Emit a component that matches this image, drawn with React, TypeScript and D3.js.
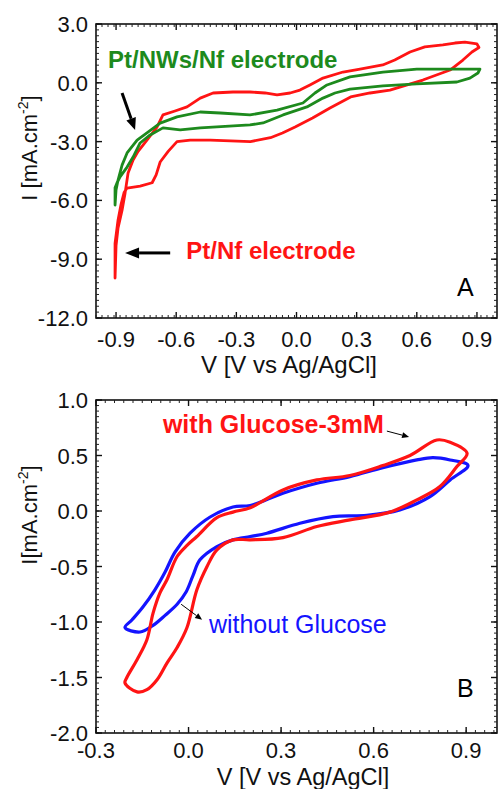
import React from "react";
import * as d3 from "d3";

// ---- Panel A: CV loops of the two electrodes (V vs Ag/AgCl, mA.cm^-2) ----
const ptNfV = [-0.905, -0.905, -0.89, -0.875, -0.86, -0.845, -0.78, -0.72, -0.7, -0.68, -0.64, -0.596, -0.53, -0.43, -0.23, -0.13, -0.07, -0.007, 0.08, 0.167, 0.27, 0.367, 0.466, 0.63, 0.766, 0.83, 0.875, 0.91, 0.9, 0.84, 0.79, 0.73, 0.64, 0.566, 0.49, 0.43, 0.317, 0.232, 0.132, 0.067, 0.017, -0.032, -0.097, -0.157, -0.232, -0.317, -0.416, -0.48, -0.546, -0.606, -0.666, -0.696, -0.746, -0.79, -0.815, -0.84, -0.855, -0.87, -0.89, -0.9];
const ptNfI = [-9.96, -8.2, -7.0, -6.2, -5.6, -5.37, -5.27, -5.1, -4.7, -4.04, -3.5, -3.0, -2.92, -2.92, -3.0, -2.8, -2.56, -2.26, -1.8, -1.29, -0.72, -0.52, -0.37, 0.14, 0.65, 1.16, 1.57, 1.8, 1.98, 2.08, 2.03, 1.93, 1.83, 1.57, 1.16, 0.91, 0.7, 0.55, 0.24, -0.11, -0.37, -0.52, -0.62, -0.52, -0.47, -0.47, -0.52, -0.78, -1.23, -1.44, -1.64, -2.26, -2.92, -3.5, -3.94, -4.6, -5.63, -6.5, -7.4, -8.3];

const ptNwsV = [-0.905, -0.9, -0.89, -0.87, -0.845, -0.795, -0.746, -0.68, -0.596, -0.48, -0.38, -0.232, -0.097, 0.032, 0.092, 0.152, 0.267, 0.431, 0.6, 0.766, 0.915, 0.905, 0.865, 0.8, 0.6, 0.431, 0.267, 0.192, 0.132, 0.052, -0.067, -0.167, -0.232, -0.48, -0.58, -0.666, -0.73, -0.78, -0.815, -0.845, -0.88, -0.895, -0.905];
const ptNwsI = [-6.24, -5.47, -4.96, -4.2, -3.58, -2.92, -2.56, -2.06, -1.74, -1.49, -1.54, -1.64, -1.39, -1.03, -0.52, -0.11, 0.3, 0.55, 0.7, 0.7, 0.7, 0.5, 0.24, 0.04, -0.06, -0.16, -0.32, -0.52, -0.78, -1.23, -1.64, -2.05, -2.15, -2.3, -2.4, -2.3, -2.66, -3.07, -3.79, -4.3, -4.8, -5.1, -5.35];

// ---- Panel B: CV loops with and without glucose ----
const glucoseV = [-0.206, -0.2, -0.167, -0.135, -0.115, -0.093, -0.07, -0.037, -0.005, 0.027, 0.092, 0.144, 0.2, 0.306, 0.416, 0.523, 0.63, 0.718, 0.805, 0.848, 0.903, 0.87, 0.815, 0.74, 0.653, 0.523, 0.416, 0.306, 0.2, 0.144, 0.092, 0.06, 0.027, -0.005, -0.037, -0.07, -0.102, -0.135, -0.167];
const glucoseI = [-1.55, -1.5, -1.34, -1.16, -0.92, -0.74, -0.62, -0.41, -0.31, -0.23, -0.06, -0.01, 0.03, 0.19, 0.28, 0.32, 0.41, 0.5, 0.64, 0.62, 0.52, 0.4, 0.22, 0.1, -0.01, -0.08, -0.14, -0.24, -0.26, -0.26, -0.35, -0.5, -0.71, -1.05, -1.23, -1.37, -1.52, -1.61, -1.63];

const blankV = [-0.206, -0.183, -0.148, -0.109, -0.076, -0.044, 0.005, 0.07, 0.144, 0.2, 0.306, 0.416, 0.523, 0.63, 0.74, 0.792, 0.848, 0.906, 0.848, 0.783, 0.685, 0.578, 0.468, 0.361, 0.254, 0.2, 0.144, 0.092, 0.037, 0.014, -0.008, -0.037, -0.076, -0.115, -0.157];
const blankI = [-1.05, -0.98, -0.865, -0.71, -0.55, -0.37, -0.2, -0.054, 0.036, 0.05, 0.16, 0.25, 0.31, 0.39, 0.46, 0.48, 0.46, 0.41, 0.28, 0.13, 0.01, -0.04, -0.05, -0.11, -0.2, -0.23, -0.26, -0.32, -0.44, -0.585, -0.73, -0.84, -0.94, -1.03, -1.09];

// ---- Axis ticks ----
const topXTicks = [-0.9, -0.6, -0.3, 0.0, 0.3, 0.6, 0.9];
const topYTicks = [3, 0, -3, -6, -9, -12];
const botXTicks = [-0.3, 0.0, 0.3, 0.6, 0.9];
const botYTicks = [1, 0.5, 0, -0.5, -1, -1.5, -2];

const RED = "#ff1414";
const GREEN = "#1d8a1d";
const BLUE = "#1414ff";
const FONT = "'Liberation Sans', Arial, sans-serif";

type Pt = [number, number];
const zip = (xs: number[], ys: number[]): Pt[] => xs.map((x, i) => [x, ys[i]]);

type FrameProps = {
  x: d3.ScaleLinear<number, number>;
  y: d3.ScaleLinear<number, number>;
  xMajor: number[];
  yMajor: number[];
  xMinor: number[];
  yMinor: number[];
  labelGap: number;
};

function Frame({ x, y, xMajor, yMajor, xMinor, yMinor, labelGap }: FrameProps) {
  const [x0, x1] = x.range();
  const [y1, y0] = y.range();
  const maj = 6;
  const min = 3;
  const fmt = (v: number) => v.toFixed(1);
  return (
    <g>
      <rect x={x0} y={y0} width={x1 - x0} height={y1 - y0} fill="none" stroke="#111" strokeWidth={1.6} />
      {xMinor.map((v, i) => (
        <g key={"xm" + i} stroke="#222" strokeWidth={1}>
          <line x1={x(v)} x2={x(v)} y1={y1} y2={y1 - min} />
          <line x1={x(v)} x2={x(v)} y1={y0} y2={y0 + min} />
        </g>
      ))}
      {yMinor.map((v, i) => (
        <g key={"ym" + i} stroke="#222" strokeWidth={1}>
          <line x1={x0} x2={x0 + min} y1={y(v)} y2={y(v)} />
          <line x1={x1} x2={x1 - min} y1={y(v)} y2={y(v)} />
        </g>
      ))}
      {xMajor.map((v, i) => (
        <g key={"xM" + i}>
          <line x1={x(v)} x2={x(v)} y1={y1} y2={y1 - maj} stroke="#111" strokeWidth={1.4} />
          <line x1={x(v)} x2={x(v)} y1={y0} y2={y0 + maj} stroke="#111" strokeWidth={1.4} />
          <text x={x(v)} y={y1 + labelGap} textAnchor="middle" fontSize={22} fontFamily={FONT} fill="#111">
            {fmt(v)}
          </text>
        </g>
      ))}
      {yMajor.map((v, i) => (
        <g key={"yM" + i}>
          <line x1={x0} x2={x0 + maj} y1={y(v)} y2={y(v)} stroke="#111" strokeWidth={1.4} />
          <line x1={x1} x2={x1 - maj} y1={y(v)} y2={y(v)} stroke="#111" strokeWidth={1.4} />
          <text x={x0 - 8} y={y(v) + 8} textAnchor="end" fontSize={22} fontFamily={FONT} fill="#111">
            {fmt(v)}
          </text>
        </g>
      ))}
    </g>
  );
}

function Arrow({ from, to, width, head, headLen }: { from: Pt; to: Pt; width: number; head: number; headLen: number }) {
  const dx = to[0] - from[0];
  const dy = to[1] - from[1];
  const len = Math.hypot(dx, dy);
  const ux = dx / len;
  const uy = dy / len;
  const bx = to[0] - ux * headLen;
  const by = to[1] - uy * headLen;
  const px = -uy * head;
  const py = ux * head;
  return (
    <g>
      <line x1={from[0]} y1={from[1]} x2={bx} y2={by} stroke="#000" strokeWidth={width} />
      <polygon points={`${to[0]},${to[1]} ${bx + px},${by + py} ${bx - px},${by - py}`} fill="#000" />
    </g>
  );
}

export default function App() {
  // Panel A scales
  const xA = d3.scaleLinear().domain([-1.0, 1.0]).range([96, 497]);
  const yA = d3.scaleLinear().domain([-12, 3]).range([318, 24]);
  // Panel B scales
  const xB = d3.scaleLinear().domain([-0.3, 1.0]).range([96, 497]);
  const yB = d3.scaleLinear().domain([-2, 1]).range([733, 400]);

  const lineA = d3
    .line<Pt>()
    .x((d) => xA(d[0]))
    .y((d) => yA(d[1]))
    .curve(d3.curveLinearClosed);
  const lineB = d3
    .line<Pt>()
    .x((d) => xB(d[0]))
    .y((d) => yB(d[1]))
    .curve(d3.curveCatmullRomClosed.alpha(0.5));

  const minorA_x = d3.range(-1.0, 1.0001, 0.03).filter((v) => v <= 1.0);
  const minorA_y = d3.range(-12, 3.0001, 0.3);
  const minorB_x = d3.range(-0.3, 1.0001, 0.03);
  const minorB_y = d3.range(-2, 1.0001, 0.05);

  const pA = (v: number, i: number): Pt => [xA(v), yA(i)];
  const pB = (v: number, i: number): Pt => [xB(v), yB(i)];

  return (
    <svg width={500} height={789} style={{ position: "absolute", left: 0, top: 0, background: "#fff" }}>
      <rect width={500} height={789} fill="#fff" />

      {/* Panel A */}
      <Frame x={xA} y={yA} xMajor={topXTicks} yMajor={topYTicks} xMinor={minorA_x} yMinor={minorA_y} labelGap={29} />
      <path d={lineA(zip(ptNfV, ptNfI)) || ""} fill="none" stroke={RED} strokeWidth={2.8} strokeLinejoin="round" />
      <path d={lineA(zip(ptNwsV, ptNwsI)) || ""} fill="none" stroke={GREEN} strokeWidth={2.8} strokeLinejoin="round" />
      <text x={xA(-0.94)} y={yA(0.75)} fontSize={24} fontWeight="bold" fontFamily={FONT} fill={GREEN}>
        Pt/NWs/Nf electrode
      </text>
      <text x={xA(-0.55)} y={yA(-9.0)} fontSize={24} fontWeight="bold" fontFamily={FONT} fill={RED}>
        Pt/Nf electrode
      </text>
      <Arrow from={pA(-0.87, -0.52)} to={pA(-0.805, -2.41)} width={3} head={5} headLen={12} />
      <Arrow from={pA(-0.63, -8.68)} to={pA(-0.855, -8.68)} width={3} head={5.5} headLen={14} />
      <text x={xA(0.8)} y={yA(-10.9)} fontSize={25} fontFamily={FONT} fill="#000">
        A
      </text>
      <text x={289} y={373} textAnchor="middle" fontSize={24} fontFamily={FONT} fill="#111">
        V [V vs Ag/AgCl]
      </text>
      <text transform="translate(37,148) rotate(-90)" textAnchor="middle" fontSize={22} fontFamily={FONT} fill="#111">
        I [mA.cm<tspan fontSize={14} dy={-9}>-2</tspan>
        <tspan dy={9}>]</tspan>
      </text>

      {/* Panel B */}
      <Frame x={xB} y={yB} xMajor={botXTicks} yMajor={botYTicks} xMinor={minorB_x} yMinor={minorB_y} labelGap={25} />
      <path d={lineB(zip(blankV, blankI)) || ""} fill="none" stroke={BLUE} strokeWidth={3.2} strokeLinejoin="round" />
      <path d={lineB(zip(glucoseV, glucoseI)) || ""} fill="none" stroke={RED} strokeWidth={3.2} strokeLinejoin="round" />
      <text x={xB(-0.083)} y={yB(0.7)} fontSize={25} fontWeight="bold" fontFamily={FONT} fill={RED}>
        with Glucose-3mM
      </text>
      <Arrow from={pB(0.643, 0.72)} to={pB(0.715, 0.667)} width={1} head={3} headLen={7} />
      <text x={xB(0.066)} y={yB(-1.1)} fontSize={25} fontFamily={FONT} fill={BLUE}>
        without Glucose
      </text>
      <Arrow from={pB(-0.024, -0.84)} to={pB(0.044, -0.98)} width={1} head={3} headLen={7} />
      <text x={xB(0.87)} y={yB(-1.68)} fontSize={25} fontFamily={FONT} fill="#000">
        B
      </text>
      <text x={303} y={785} textAnchor="middle" fontSize={23.5} fontFamily={FONT} fill="#111">
        V [V vs Ag/AgCl]
      </text>
      <text transform="translate(37,515) rotate(-90)" textAnchor="middle" fontSize={22} fontFamily={FONT} fill="#111">
        I[mA.cm<tspan fontSize={14} dy={-9}>-2</tspan>
        <tspan dy={9}>]</tspan>
      </text>
    </svg>
  );
}
